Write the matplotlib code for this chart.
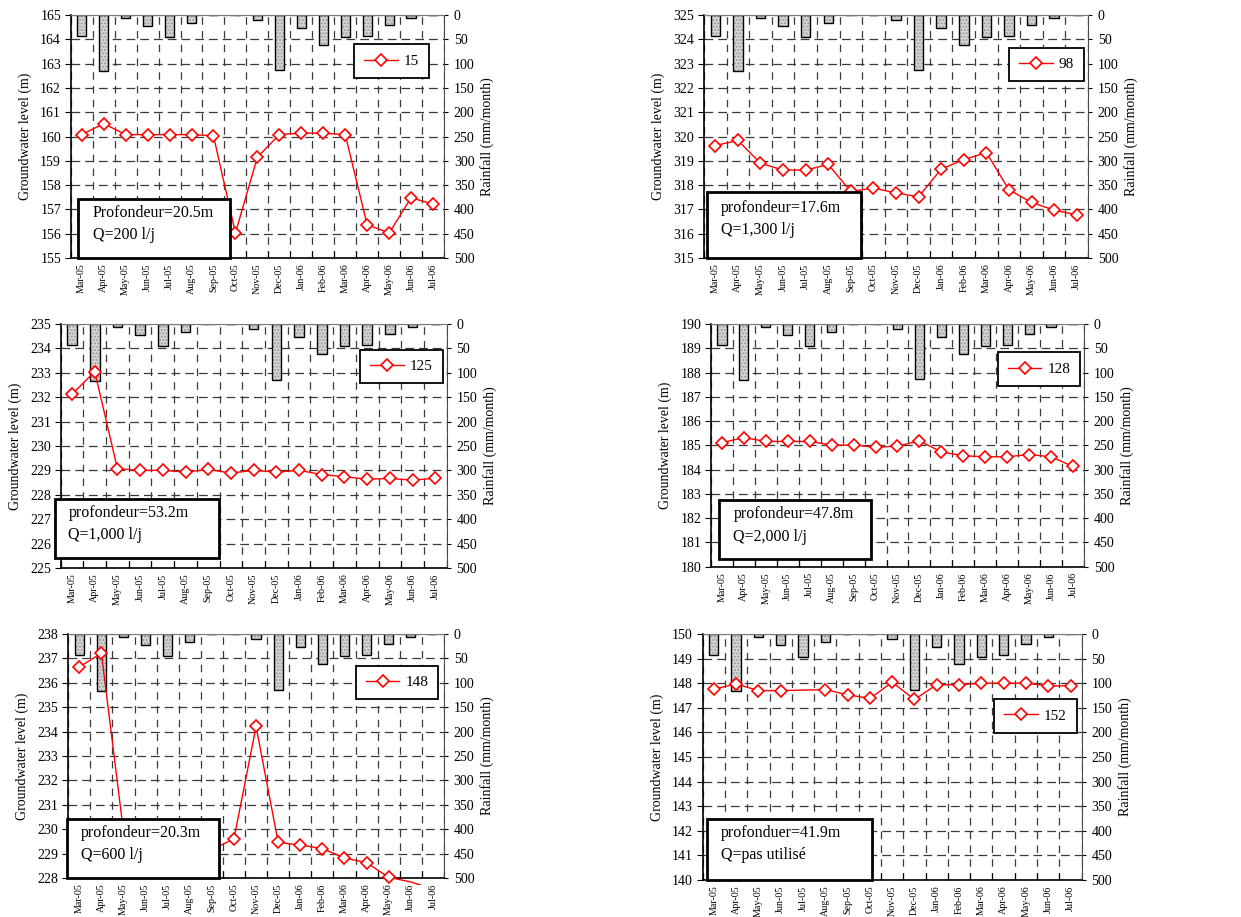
import numpy as np
import matplotlib
matplotlib.use("Agg")
import matplotlib.pyplot as plt
from matplotlib.patches import Rectangle

plt.rcParams['font.family'] = ['Liberation Serif', 'DejaVu Serif']

months = ['Mar-05', 'Apr-05', 'May-05', 'Jun-05', 'Jul-05', 'Aug-05', 'Sep-05', 'Oct-05',
          'Nov-05', 'Dec-05', 'Jan-06', 'Feb-06', 'Mar-06', 'Apr-06', 'May-06', 'Jun-06', 'Jul-06']

rainfall = [43, 116, 6, 23, 46, 17, 0, 0, 11, 114, 26, 61, 46, 43, 21, 6, 0]

gw_15 = [160.08, 160.53, 160.08, 160.08, 160.08, 160.08, 160.03, 156.03, 159.15, 160.08,
         160.14, 160.14, 160.08, 156.37, 156.03, 157.48, 157.22]
gw_98 = [319.63, 319.84, 318.90, 318.62, 318.62, 318.85, 317.74, 317.88, 317.68, 317.52,
         318.66, 319.05, 319.34, 317.81, 317.29, 316.97, 316.78]
gw_125 = [232.12, 233.05, 229.07, 229.00, 229.00, 228.93, 229.04, 228.89, 229.00, 228.93,
          229.00, 228.83, 228.74, 228.64, 228.67, 228.60, 228.68]
gw_128 = [185.11, 185.32, 185.16, 185.16, 185.16, 185.01, 185.01, 184.92, 184.97, 185.18,
          184.73, 184.57, 184.53, 184.53, 184.62, 184.53, 184.13]
gw_148 = [236.65, 237.21, 229.90, 229.70, 229.50, 229.30, 229.16, 229.61, 234.21, 229.46,
          229.35, 229.21, 228.82, 228.63, 228.03, 227.84, 227.55]
gw_152 = [147.76, 147.97, 147.70, 147.70, np.nan, 147.74, 147.53, 147.38, 148.04, 147.34,
          147.94, 147.94, 148.00, 148.00, 148.00, 147.89, 147.89]

wells = ['15', '98', '125', '128', '148', '152']
series = [gw_15, gw_98, gw_125, gw_128, gw_148, gw_152]
ylims = [(155, 165), (315, 325), (225, 235), (180, 190), (228, 238), (140, 150)]
line1 = ['Profondeur=20.5m', 'profondeur=17.6m', 'profondeur=53.2m',
         'profondeur=47.8m', 'profondeur=20.3m', 'profonduer=41.9m']
line2 = ['Q=200 l/j', 'Q=1,300 l/j', 'Q=1,000 l/j', 'Q=2,000 l/j', 'Q=600 l/j', 'Q=pas utilisé']

# layout (figure fractions) and box/legend placement (axes fractions)
positions = [
    [0.0570, 0.7186, 0.3008, 0.2650],
    [0.5673, 0.7186, 0.3094, 0.2650],
    [0.0489, 0.3806, 0.3110, 0.2661],
    [0.5729, 0.3820, 0.3006, 0.2647],
    [0.0550, 0.0425, 0.3027, 0.2661],
    [0.5662, 0.0403, 0.3054, 0.2683],
]
boxes = [  # x0, y0, x1, y1
    (0.0205, 0.0, 0.426, 0.242),
    (0.007, 0.0, 0.410, 0.270),
    (-0.015, 0.040, 0.410, 0.282),
    (0.021, 0.030, 0.428, 0.275),
    (-0.004, 0.0, 0.400, 0.241),
    (0.011, 0.0, 0.447, 0.247),
]
text_pos = [  # x, y line1, y line2
    (0.059, 0.185, 0.096),
    (0.044, 0.205, 0.116),
    (0.020, 0.225, 0.136),
    (0.060, 0.217, 0.124),
    (0.034, 0.184, 0.094),
    (0.048, 0.190, 0.100),
]
legend_anchor = [(0.960, 0.879), (0.990, 0.866), (0.990, 0.894),
                 (0.990, 0.883), (0.985, 0.870), (0.987, 0.736)]

fig = plt.figure(figsize=(12.41, 9.17), dpi=100)
x = np.arange(len(months))
grid_col = '#3a3a3a'
bounds = np.arange(len(months) + 1) - 0.5

for i in range(6):
    ax2 = fig.add_axes(positions[i])          # rainfall (bottom layer)
    ax = fig.add_axes(positions[i])           # groundwater (top layer)
    ax.patch.set_visible(False)

    # rainfall axis on right
    ax2.yaxis.tick_right()
    ax2.yaxis.set_label_position('right')
    ax2.set_ylim(500, 0)
    ax2.set_yticks(np.arange(0, 501, 50))
    ax2.set_xlim(-0.5, len(months) - 0.5)
    ax2.bar(x, rainfall, width=0.42, color='#d6d6d6', edgecolor='none', zorder=2)
    ax2.bar(x, rainfall, width=0.42, color='none', edgecolor='#9a9a9a', hatch='.....',
            linewidth=0, zorder=2.1)
    ax2.bar(x, rainfall, width=0.42, color='none', edgecolor='black', linewidth=1.0, zorder=2.2)
    ax2.set_xticks(bounds)
    ax2.grid(True, axis='y', color=grid_col, linestyle=(0, (7, 4)), linewidth=0.9, zorder=1)
    ax2.grid(True, axis='x', color=grid_col, linestyle=(0, (6, 5)), linewidth=0.9, zorder=1)
    ax2.set_axisbelow(True)
    ax2.tick_params(axis='x', which='both', length=0, labelbottom=False)
    ax2.tick_params(axis='y', direction='out', length=3, labelsize=10, pad=4)
    ax2.set_ylabel('Rainfall (mm/month)', fontsize=10, labelpad=4)
    for s in ax2.spines.values():
        s.set_visible(False)

    # groundwater axis
    lo, hi = ylims[i]
    ax.set_ylim(lo, hi)
    ax.set_yticks(np.arange(lo, hi + 0.1, 1))
    ax.tick_params(axis='y', direction='out', length=4, labelsize=10, pad=3)
    ax.set_ylabel('Groundwater level (m)', fontsize=10, labelpad=6)
    ax.set_xticks(bounds)
    ax.set_xticks(x, minor=True)
    ax.set_xticklabels(months, minor=True, rotation=90, fontsize=7.2)
    ax.tick_params(axis='x', which='major', direction='in', length=5, labelbottom=False)
    ax.tick_params(axis='x', which='minor', length=0, pad=4)
    ax.set_xlim(-0.5, len(months) - 0.5)
    ax.spines['left'].set_color('black')
    ax.spines['bottom'].set_color('black')
    ax.spines['left'].set_linewidth(1.2)
    ax.spines['bottom'].set_linewidth(1.2)
    ax.spines['top'].set_color('#7a7a7a')
    ax.spines['right'].set_color('#4a4a4a')

    vals = np.array(series[i], dtype=float)
    valid = ~np.isnan(vals)
    ln, = ax.plot(x[valid], vals[valid], color='red', linewidth=1.0, zorder=4)
    if i == 4:
        clip = Rectangle((-0.5, lo - 0.3), len(months) - 1, hi - lo + 0.3, transform=ax.transData)
        ln.set_clip_path(clip)
    vis = valid & (vals >= lo - 0.05)
    ax.plot(x[vis], vals[vis], linestyle='none', marker='D', markersize=6.2,
            markerfacecolor='white', markeredgecolor='red', markeredgewidth=1.2,
            clip_on=False, zorder=5)
    handle, = ax.plot([], [], color='red', linewidth=1.0, marker='D', markersize=6.2,
                      markerfacecolor='white', markeredgecolor='red', markeredgewidth=1.2)
    leg = ax.legend([handle], [wells[i]], loc='upper right', bbox_to_anchor=legend_anchor[i],
                    bbox_transform=ax.transAxes, borderaxespad=0, frameon=True, fancybox=False,
                    edgecolor='black', fontsize=11, handlelength=2.2, handletextpad=0.4,
                    borderpad=0.65, framealpha=1)
    leg.get_frame().set_linewidth(1.3)
    leg.set_zorder(8)

    x0, y0, x1, y1 = boxes[i]
    rect = Rectangle((x0, y0), x1 - x0, y1 - y0, transform=ax.transAxes, facecolor='white',
                     edgecolor='black', linewidth=2.0, zorder=9, clip_on=False)
    ax.add_patch(rect)
    tx, ty1, ty2 = text_pos[i]
    ax.text(tx, ty1, line1[i], transform=ax.transAxes, fontsize=11.5, va='center', ha='left', zorder=10)
    ax.text(tx, ty2, line2[i], transform=ax.transAxes, fontsize=11.5, va='center', ha='left', zorder=10)

fig.savefig('out.png', dpi=100)
